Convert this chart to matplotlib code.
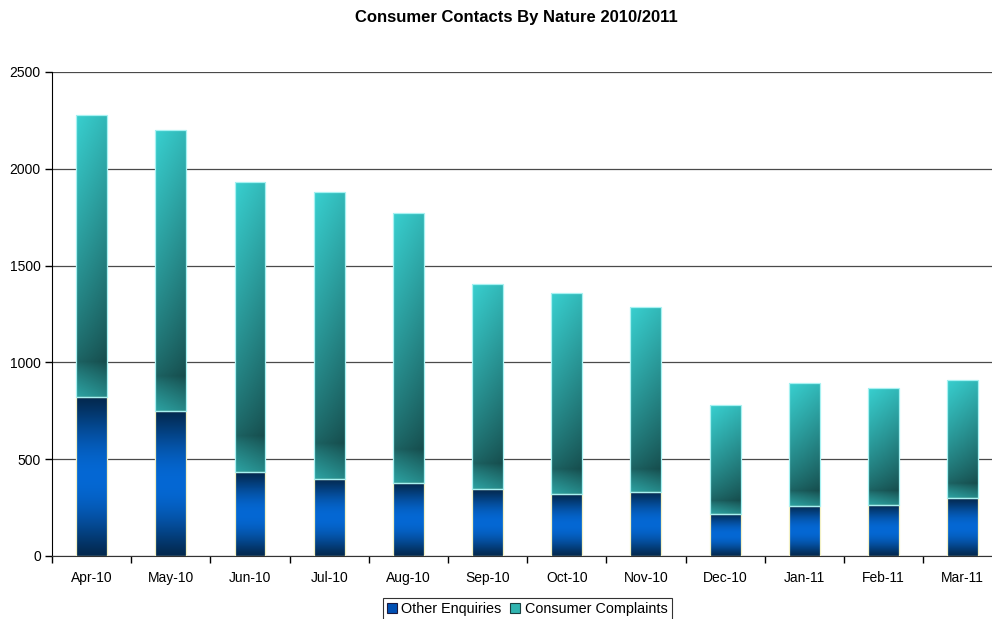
import numpy as np
import matplotlib
matplotlib.use("Agg")
import matplotlib.pyplot as plt
from matplotlib.colors import to_rgb
from matplotlib.patches import Patch

plt.rcParams['font.family'] = ['Liberation Sans', 'DejaVu Sans']

# Monthly contacts, split by nature
months = ["Apr-10", "May-10", "Jun-10", "Jul-10", "Aug-10", "Sep-10",
          "Oct-10", "Nov-10", "Dec-10", "Jan-11", "Feb-11", "Mar-11"]
other_enquiries = [820, 750, 432, 399, 375, 344, 320, 331, 219, 260, 265, 298]
consumer_complaints = [1460, 1450, 1498, 1481, 1395, 1061, 1037, 954, 562, 632, 604, 611]


def blend(c1, c2, f):
    c1, c2 = np.array(to_rgb(c1)), np.array(to_rgb(c2))
    return c1 + (c2 - c1) * f


def blue_gradient(ny=100, nx=20):
    # dark navy at top and bottom, bright blue through the middle
    t = np.linspace(0, 1, ny)[:, None]
    f = np.sin(np.pi * t) ** 1.2
    img = blend("#03294f", "#0568d4", f[..., None] * np.ones((1, nx, 1)))
    return img


def teal_gradient(ny=100, nx=20):
    # light at the top, darkest near the bottom, darker toward the right
    t = np.linspace(0, 1, ny)[:, None]
    s = np.linspace(0, 1, nx)[None, :]
    f = np.where(t > 0.12, (t - 0.12) / 0.88, 0.5 * (0.12 - t) / 0.12)
    f = f ** 0.8
    img = blend("#1c6262", "#38cfcf", f[..., None] * np.ones((1, nx, 1)))
    shade = 1 - 0.22 * s[..., None] * (1 - 0.5 * f[..., None])
    return np.clip(img * shade, 0, 1)


fig = plt.figure(figsize=(9.92, 6.19), dpi=100)
ax = fig.add_axes([0.0524, 0.1018, 0.958, 0.782])

x = np.arange(len(months))
width = 0.39

bottom_bars = ax.bar(x, other_enquiries, width, facecolor="none",
                     edgecolor="#f2f0c4", linewidth=0.9, zorder=3)
top_bars = ax.bar(x, consumer_complaints, width, bottom=other_enquiries,
                  facecolor="none", edgecolor="#a8f2f2", linewidth=0.9, zorder=3)

blue_img = blue_gradient()
teal_img = teal_gradient()
for bars, img in [(bottom_bars, blue_img), (top_bars, teal_img)]:
    for bar in bars:
        x0, y0 = bar.get_x(), bar.get_y()
        im = ax.imshow(img, extent=[x0, x0 + bar.get_width(), y0, y0 + bar.get_height()],
                       origin="lower", aspect="auto", interpolation="bilinear", zorder=2)
        im.set_clip_path(bar)

ax.set_xlim(-0.5, len(months) - 0.5)
ax.set_ylim(0, 2500)
ax.set_yticks(range(0, 2501, 500))
ax.yaxis.grid(True, color="#4a4a4a", linewidth=0.9)
ax.set_axisbelow(True)

ax.set_xticks(x)
ax.set_xticklabels(months, fontsize=10)
ax.set_xticks(np.arange(-0.5, len(months)), minor=True)
ax.tick_params(axis="x", which="major", length=0, pad=11)
ax.tick_params(axis="x", which="minor", length=5, width=1, color="black")
ax.tick_params(axis="y", length=5, width=1, labelsize=10, pad=3)

for side in ["top", "right"]:
    ax.spines[side].set_visible(False)
ax.spines["left"].set_color("black")
ax.spines["bottom"].set_color("#333333")

fig.text(0.521, 0.971, "Consumer Contacts By Nature 2010/2011", ha="center", va="center",
         fontsize=12, fontweight="bold")

handles = [Patch(facecolor="#0050b4", edgecolor="#1a1a40", linewidth=0.8, label="Other Enquiries"),
           Patch(facecolor="#30b4b0", edgecolor="#1a4040", linewidth=0.8, label="Consumer Complaints")]
leg = fig.legend(handles=handles, loc="upper center", bbox_to_anchor=(0.5315, 0.034), ncol=2,
                 fontsize=10.4, frameon=True, fancybox=False, borderpad=0.3,
                 handlelength=0.7, handleheight=0.7, handletextpad=0.3, columnspacing=0.6,
                 borderaxespad=0)
leg.get_frame().set_edgecolor("black")
leg.get_frame().set_linewidth(0.8)

fig.savefig("out.png", dpi=100)
